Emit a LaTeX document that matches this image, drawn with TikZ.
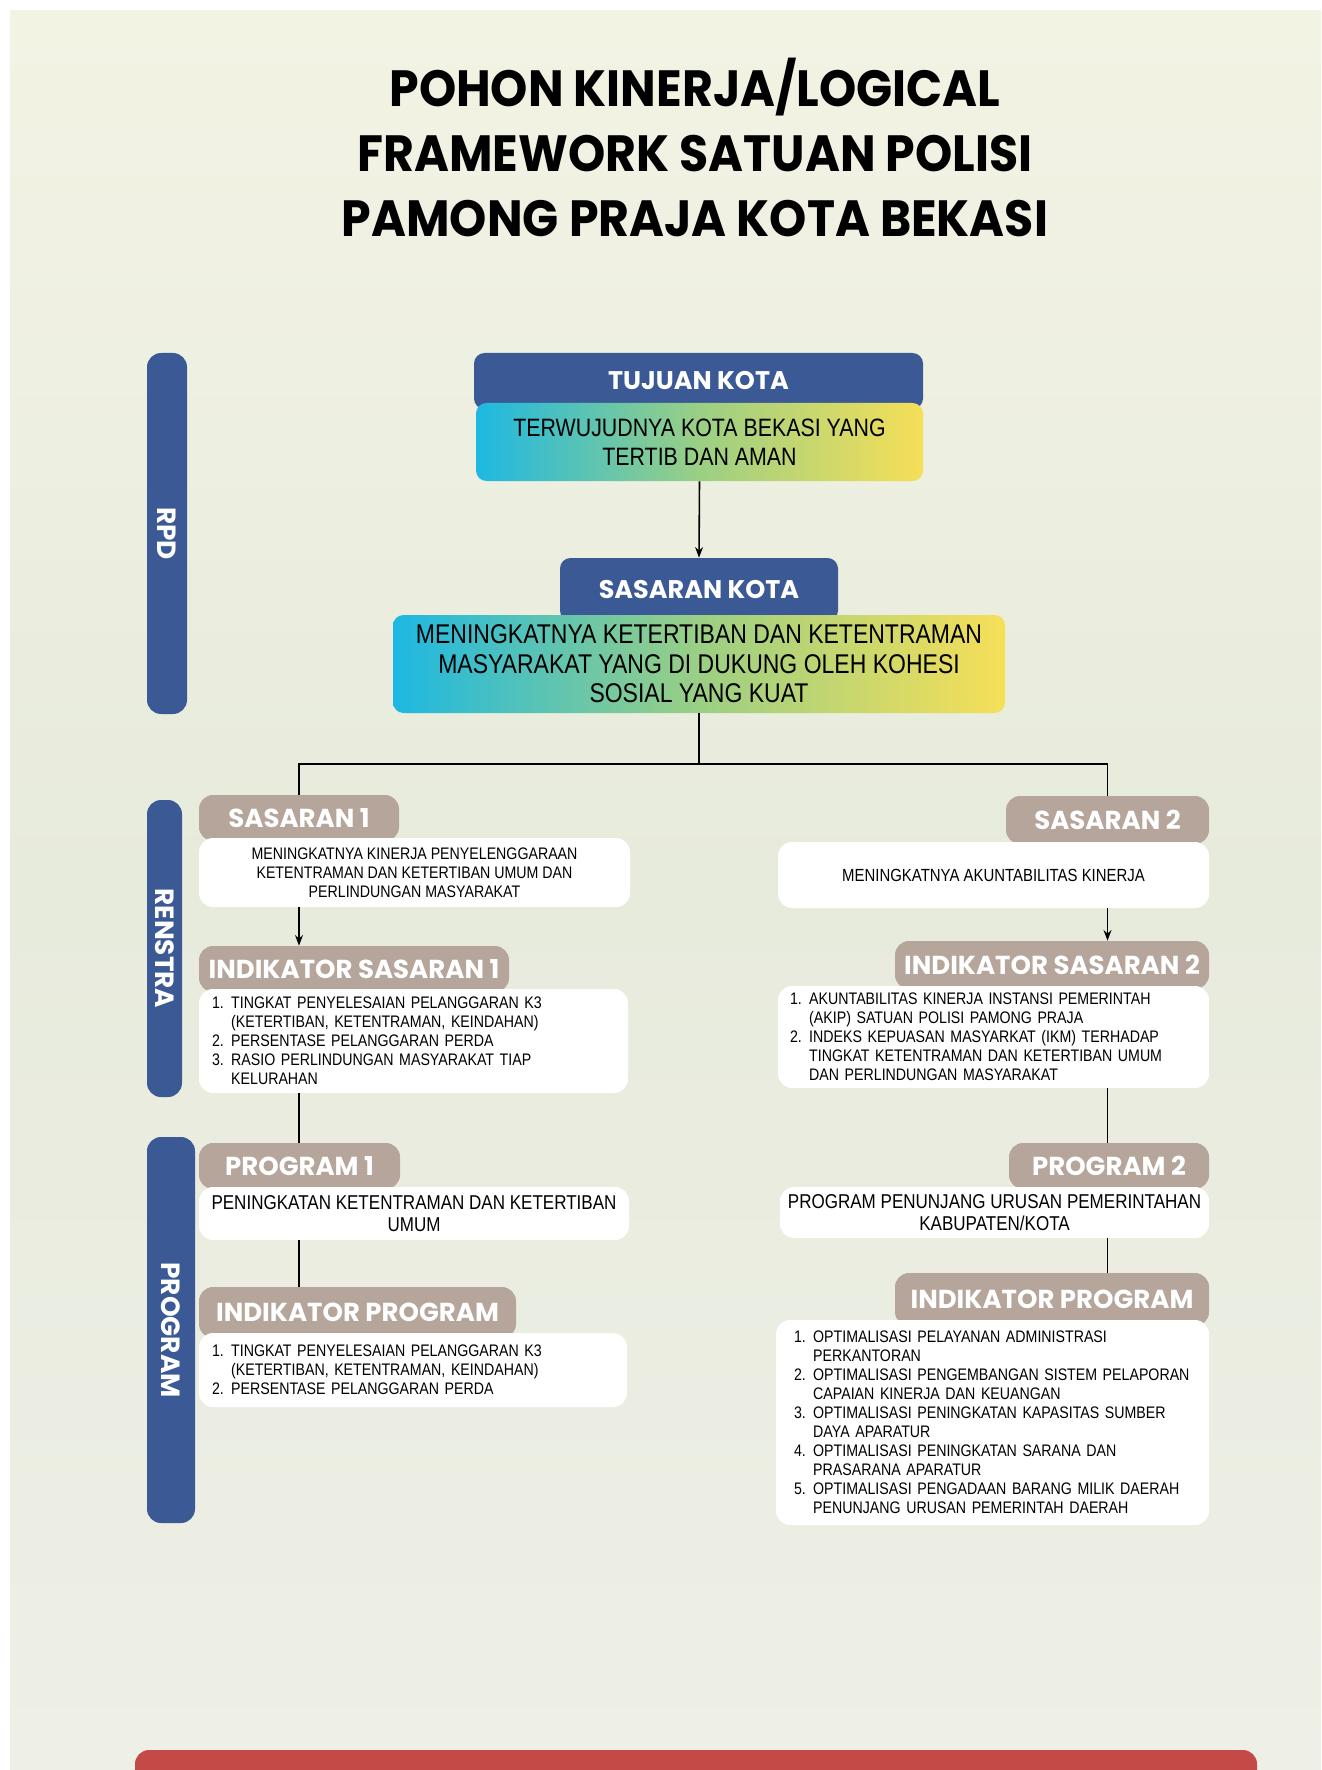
\documentclass[tikz,border=0pt]{standalone}
\usepackage{fontspec}
\setmainfont{Liberation Sans}
\newfontfamily\titlefont{Poppins}[FakeStretch=0.93]
\newfontfamily\headfont{Poppins}
\newfontfamily\bodyfont{Liberation Sans}[FakeStretch=0.85]
\usetikzlibrary{arrows.meta}

\definecolor{bgtop}{HTML}{F3F3E4}
\definecolor{bgmid}{HTML}{E7EBDC}
\definecolor{bgbot}{HTML}{EEEFE6}
\definecolor{navy}{HTML}{3B5A95}
\definecolor{taupe}{HTML}{B5A59B}
\definecolor{gcyan}{HTML}{1DB8E2}
\definecolor{ggreen}{HTML}{9BCF84}
\definecolor{gyellow}{HTML}{F6DF58}
\definecolor{redbar}{HTML}{C44A48}

\newcommand{\itm}[1]{\makebox[1.15em][l]{#1}}

\begin{document}
\begin{tikzpicture}[
    head/.style={fill=navy, rounded corners=6pt, inner sep=0pt, text=white,
        font=\headfont\bfseries\fontsize{14.5}{16}\selectfont},
    tag/.style={fill=taupe, rounded corners=8pt, inner sep=0pt, text=white,
        font=\headfont\bfseries\fontsize{14.8}{16}\selectfont},
    grad/.style={rounded corners=6pt, left color=gcyan, right color=gyellow,
        middle color=ggreen, inner sep=0pt, align=center,
        font=\bodyfont\fontsize{14.3}{16.5}\selectfont},
    card/.style={fill=white, rounded corners=8pt, inner sep=0pt,
        font=\bodyfont\fontsize{9.5}{10.8}\selectfont,
        execute at begin node={\hyphenpenalty=10000\relax}},
    bar/.style={fill=navy, rounded corners=8pt, inner sep=0pt, rotate=-90,
        text=white, font=\headfont\bfseries\fontsize{15}{16}\selectfont},
    link/.style={line width=0.9pt},
    arr/.style={line width=0.9pt, -{Stealth[length=6pt, width=4.5pt]}}]

    \useasboundingbox (0,0) rectangle (26.42,-35.4);
    \shade[top color=bgtop, bottom color=bgbot, middle color=bgmid]
    (0.2,-0.22) rectangle (26.42,-35.4);

    % Title
    \node[anchor=base, font=\titlefont\bfseries\fontsize{29}{35}\selectfont]
    (title1) at (13.9,-2.14) {POHON KINERJA/LOGICAL};
    \node[anchor=base, font=\titlefont\bfseries\fontsize{29}{35}\selectfont]
    (title2) at (13.9,-3.44) {FRAMEWORK SATUAN POLISI};
    \node[anchor=base, font=\titlefont\bfseries\fontsize{29}{35}\selectfont]
    (title3) at (13.9,-4.74) {PAMONG PRAJA KOTA BEKASI};

    % Side bars
    \node[bar, minimum width=7.22cm, minimum height=0.8cm] (rpd)
    at (3.34,-10.67) {RPD};
    \node[bar, minimum width=5.94cm, minimum height=0.7cm] (renstra)
    at (3.29,-18.97) {RENSTRA};
    \node[bar, minimum width=7.72cm, minimum height=0.96cm] (program)
    at (3.42,-26.6) {PROGRAM};

    % Kota
    \node[head, minimum width=8.98cm, minimum height=1.12cm] (tujuanhead)
    at (13.97,-7.62) {TUJUAN KOTA};
    \node[grad, minimum width=8.94cm, minimum height=1.56cm] (tujuan)
    at (13.99,-8.84) {TERWUJUDNYA KOTA BEKASI YANG\\TERTIB DAN AMAN};
    \node[head, minimum width=5.56cm, minimum height=1.26cm] (skhead)
    at (13.98,-11.79) {SASARAN KOTA};
    \node[grad, minimum width=12.24cm, minimum height=1.96cm,
    font=\bodyfont\fontsize{15.4}{16.8}\selectfont] (sk)
    at (13.98,-13.28) {MENINGKATNYA KETERTIBAN DAN KETENTRAMAN\\
        MASYARAKAT YANG DI DUKUNG OLEH KOHESI\\SOSIAL YANG KUAT};
    \coordinate (split) at (13.98,-15.28);

    % Sasaran 1
    \node[tag, minimum width=4.0cm, minimum height=0.92cm] (s1head)
    at (5.98,-16.36) {SASARAN 1};
    \node[card, minimum width=8.62cm, minimum height=1.38cm, align=center] (s1)
    at (8.29,-17.45) {MENINGKATNYA KINERJA PENYELENGGARAAN\\
        KETENTRAMAN DAN KETERTIBAN UMUM DAN\\PERLINDUNGAN MASYARAKAT};
    \node[tag, minimum width=6.2cm, minimum height=0.92cm] (is1head)
    at (7.08,-19.38) {INDIKATOR SASARAN 1};
    \node[card, minimum height=2.08cm, inner xsep=0.26cm, text width=8.06cm,
    align=left] (is1) at (8.27,-20.82)
    {\itm{1.}TINGKAT PENYELESAIAN PELANGGARAN K3\\
        \itm{}(KETERTIBAN, KETENTRAMAN, KEINDAHAN)\\
        \itm{2.}PERSENTASE PELANGGARAN PERDA\\
        \itm{3.}RASIO PERLINDUNGAN MASYARAKAT TIAP\\
        \itm{}KELURAHAN};

    % Program 1
    \node[tag, minimum width=4.02cm, minimum height=0.92cm] (p1head)
    at (5.99,-23.32) {PROGRAM 1};
    \node[card, minimum width=8.6cm, minimum height=1.06cm, align=center,
    font=\bodyfont\fontsize{11.4}{12.2}\selectfont] (p1) at (8.28,-24.27)
    {PENINGKATAN KETENTRAMAN DAN KETERTIBAN\\UMUM};
    \node[tag, minimum width=6.34cm, minimum height=1.02cm] (ip1head)
    at (7.15,-26.25) {INDIKATOR PROGRAM};
    \node[card, minimum height=1.48cm, inner xsep=0.26cm, text width=8.04cm,
    align=left] (ip1) at (8.26,-27.4)
    {\itm{1.}TINGKAT PENYELESAIAN PELANGGARAN K3\\
        \itm{}(KETERTIBAN, KETENTRAMAN, KEINDAHAN)\\
        \itm{2.}PERSENTASE PELANGGARAN PERDA};

    % Sasaran 2
    \node[tag, minimum width=4.06cm, minimum height=0.96cm] (s2head)
    at (22.15,-16.4) {SASARAN 2};
    \node[card, minimum width=8.62cm, minimum height=1.32cm,
    font=\bodyfont\fontsize{10}{11}\selectfont] (s2)
    at (19.87,-17.5) {MENINGKATNYA AKUNTABILITAS KINERJA};
    \node[tag, minimum width=6.28cm, minimum height=0.96cm] (is2head)
    at (21.04,-19.3) {INDIKATOR SASARAN 2};
    \node[card, minimum height=2.04cm, inner xsep=0.24cm, text width=8.14cm,
    align=left] (is2) at (19.87,-20.74)
    {\itm{1.}AKUNTABILITAS KINERJA INSTANSI PEMERINTAH\\
        \itm{}(AKIP) SATUAN POLISI PAMONG PRAJA\\
        \itm{2.}INDEKS KEPUASAN MASYARKAT (IKM) TERHADAP\\
        \itm{}TINGKAT KETENTRAMAN DAN KETERTIBAN UMUM\\
        \itm{}DAN PERLINDUNGAN MASYARAKAT};

    % Program 2
    \node[tag, minimum width=4.0cm, minimum height=0.92cm] (p2head)
    at (22.18,-23.32) {PROGRAM 2};
    \node[card, minimum width=8.58cm, minimum height=1.02cm, align=center,
    font=\bodyfont\fontsize{11.4}{12.2}\selectfont] (p2) at (19.89,-24.25)
    {PROGRAM PENUNJANG URUSAN PEMERINTAHAN\\KABUPATEN/KOTA};
    \node[tag, minimum width=6.28cm, minimum height=1.06cm] (ip2head)
    at (21.04,-25.99) {INDIKATOR PROGRAM};
    \node[card, minimum height=4.1cm, inner xsep=0.36cm, text width=7.94cm,
    align=left] (ip2) at (19.85,-28.45)
    {\itm{1.}OPTIMALISASI PELAYANAN ADMINISTRASI\\
        \itm{}PERKANTORAN\\
        \itm{2.}OPTIMALISASI PENGEMBANGAN SISTEM PELAPORAN\\
        \itm{}CAPAIAN KINERJA DAN KEUANGAN\\
        \itm{3.}OPTIMALISASI PENINGKATAN KAPASITAS SUMBER\\
        \itm{}DAYA APARATUR\\
        \itm{4.}OPTIMALISASI PENINGKATAN SARANA DAN\\
        \itm{}PRASARANA APARATUR\\
        \itm{5.}OPTIMALISASI PENGADAAN BARANG MILIK DAERAH\\
        \itm{}PENUNJANG URUSAN PEMERINTAH DAERAH};

    % Footer
    \fill[redbar, rounded corners=8pt] (2.7,-35.0) rectangle (25.14,-35.8);

    % Connections
    \draw[arr] (tujuan.south) -- (skhead.north);
    \draw[link] (sk.south) -- (split);
    \draw[link] (s1head.north) |- (split) -| (s2head.north);
    \draw[arr] (s1.south -| s1head.north) -- (is1head.north -| s1head.north);
    \draw[link] (is1.south -| s1head.north) -- (p1head.north -| s1head.north);
    \draw[link] (p1.south -| s1head.north) -- (ip1head.north -| s1head.north);
    \draw[arr] (s2.south -| s2head.north) -- (is2head.north -| s2head.north);
    \draw[link] (is2.south -| s2head.north) -- (p2head.north -| s2head.north);
    \draw[link] (p2.south -| s2head.north) -- (ip2head.north -| s2head.north);

\end{tikzpicture}
\end{document}
